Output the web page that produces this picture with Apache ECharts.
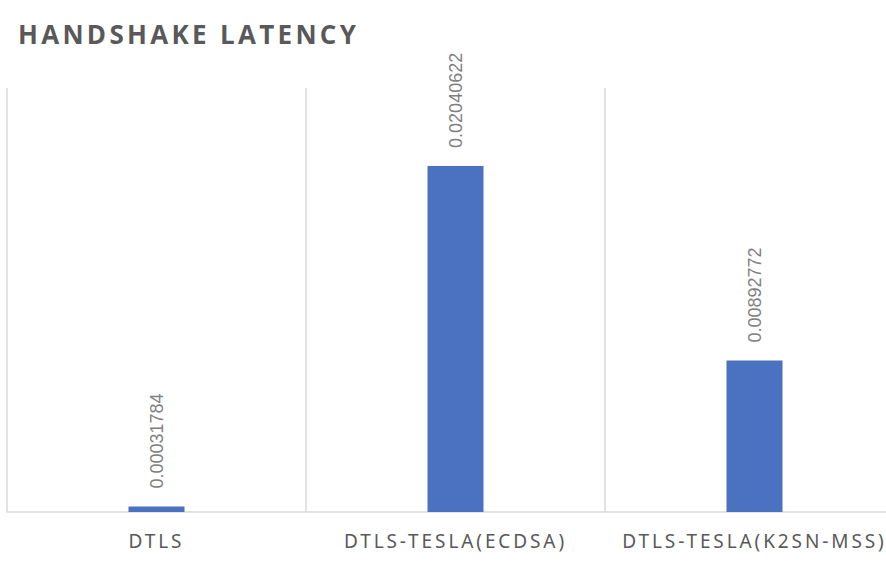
<!DOCTYPE html>
<html>
<head>
<meta charset="utf-8">
<script src="https://cdn.jsdelivr.net/npm/echarts@6/dist/echarts.min.js"></script>
<style>
html,body{margin:0;padding:0;background:#fff;}
#chart{width:886px;height:570px;}
#chart text[style*="Open Sans"]{letter-spacing:3.3px;}
#chart text[style*="Noto Sans"]{letter-spacing:2.9px;}
</style>
</head>
<body>
<div id="chart"></div>
<script>
const titleText = 'HANDSHAKE LATENCY';
const categories = ['DTLS', 'DTLS-TESLA(ECDSA)', 'DTLS-TESLA(K2SN-MSS)'];
const latency = [0.00031784, 0.02040622, 0.00892772];
const labelText = ['0.00031784', '0.02040622', '0.00892772'];
const yMax = 0.025;

const chart = echarts.init(document.getElementById('chart'), null, {renderer: 'svg'});
chart.setOption({
  animation: false,
  backgroundColor: '#ffffff',
  title: {
    text: titleText,
    left: 13,
    top: 16,
    textStyle: {fontFamily: "'Open Sans', sans-serif", fontWeight: 'bold', fontSize: 26, color: '#595959'}
  },
  grid: {left: 7, top: 88, width: 897, height: 424, containLabel: false, outerBoundsMode: 'none'},
  xAxis: {
    type: 'category',
    data: categories,
    axisLine: {show: true, lineStyle: {color: '#d9d9d9', width: 1.5}},
    axisTick: {show: false},
    splitLine: {show: true, lineStyle: {color: '#d9d9d9', width: 1.5}},
    axisLabel: {
      margin: 19, color: '#595959', fontSize: 19,
      fontFamily: "'Noto Sans', sans-serif", interval: 0, hideOverlap: false
    }
  },
  yAxis: {type: 'value', min: 0, max: yMax, show: false},
  series: [{
    type: 'bar',
    data: latency,
    barWidth: 56,
    itemStyle: {color: '#4a72c0'},
    label: {
      show: true,
      position: 'top',
      rotate: 90,
      align: 'left',
      verticalAlign: 'middle',
      distance: 18,
      color: '#7f7f7f',
      fontSize: 18,
      fontFamily: "'Liberation Sans', sans-serif",
      formatter: p => labelText[p.dataIndex]
    }
  }]
});
</script>
</body>
</html>
